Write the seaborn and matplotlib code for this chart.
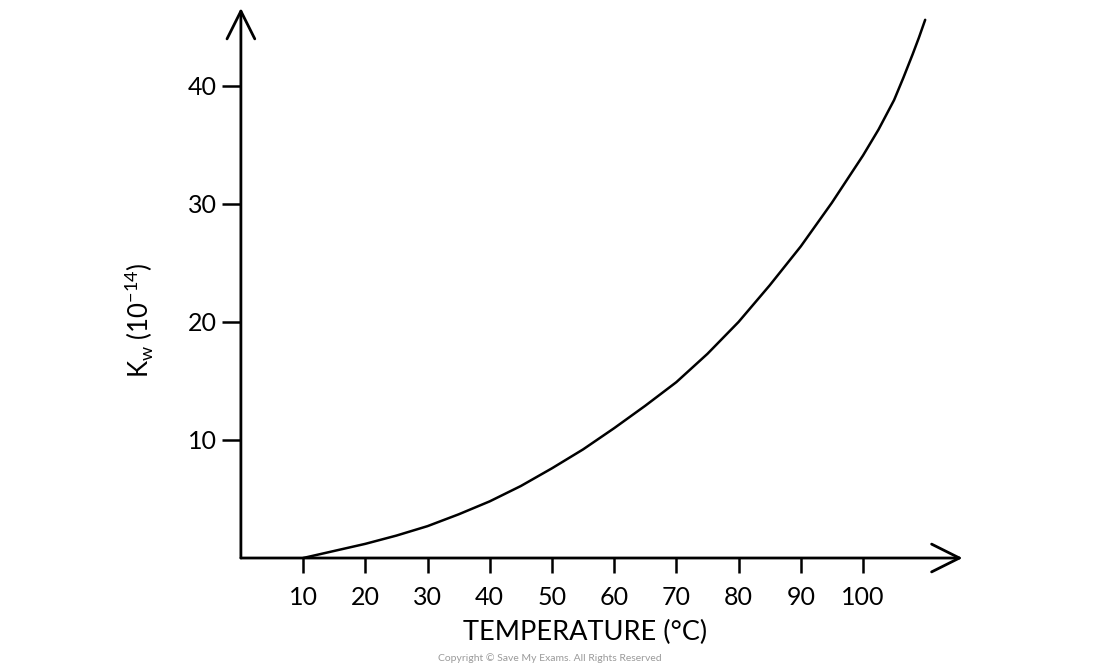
import numpy as np
import pandas as pd
import matplotlib
matplotlib.use("Agg")
import matplotlib.pyplot as plt
import seaborn as sns

# values
temperature = [10, 15, 20, 25, 30, 35, 40, 45, 50, 55, 60, 65, 70, 75, 80,
               85, 90, 95, 100, 102.5, 105, 106.5, 108, 109, 110]
kw = [0.0, 0.6, 1.2, 1.9, 2.7, 3.7, 4.8, 6.1, 7.6, 9.2, 11.0, 12.9, 14.9,
      17.3, 20.0, 23.1, 26.4, 30.1, 34.1, 36.3, 38.8, 40.7, 42.7, 44.1, 45.6]

x_ticks = [10, 20, 30, 40, 50, 60, 70, 80, 90, 100]
y_ticks = [10, 20, 30, 40]

sns.set_theme(style="white")
plt.rcParams['font.family'] = ['Lato', 'DejaVu Sans']
plt.rcParams['mathtext.fontset'] = 'custom'
plt.rcParams['mathtext.rm'] = 'Lato'

df = pd.DataFrame({"temperature": temperature, "kw": kw})

fig = plt.figure(figsize=(11, 6.67), dpi=100)
ax = fig.add_axes([0.219, 0.1634, 0.656, 0.8246])

sns.lineplot(data=df, x="temperature", y="kw", color="black",
             linewidth=1.8, ax=ax)

ax.set_xlim(0, 116)
ax.set_ylim(0, 46.6)

for s in ax.spines.values():
    s.set_visible(False)

# axis lines with open arrowheads
arrow_kw = dict(arrowstyle="->,head_length=1.0,head_width=0.5",
                color="black", lw=2.0, mutation_scale=20,
                shrinkA=0, shrinkB=0)
ax.annotate("", xy=(1, 0), xytext=(0, 0), xycoords="axes fraction",
            textcoords="axes fraction", arrowprops=arrow_kw, annotation_clip=False)
ax.annotate("", xy=(0, 1), xytext=(0, 0), xycoords="axes fraction",
            textcoords="axes fraction", arrowprops=arrow_kw, annotation_clip=False)

ax.set_xticks(x_ticks)
ax.set_yticks(y_ticks)
ax.tick_params(axis="x", direction="out", length=11, width=1.8, pad=9,
               labelsize=18, colors="black", bottom=True)
ax.tick_params(axis="y", direction="out", length=13.5, width=1.8, pad=4,
               labelsize=18, colors="black", left=True)

ax.set_xlabel("TEMPERATURE (°C)", fontsize=19.5, color="black")
ax.set_ylabel(r"K$_\mathregular{w}$ (10$^{\mathregular{-14}}$)", fontsize=18.5,
              color="black")
ax.xaxis.set_label_coords(0.477, -0.113)
ax.yaxis.set_label_coords(-0.119, 0.433)

fig.text(0.5, 0.006, "Copyright © Save My Exams. All Rights Reserved",
         ha="center", va="bottom", fontsize=7.5, color="#9a9a9a")

fig.savefig("out.png", dpi=100, facecolor="white")
